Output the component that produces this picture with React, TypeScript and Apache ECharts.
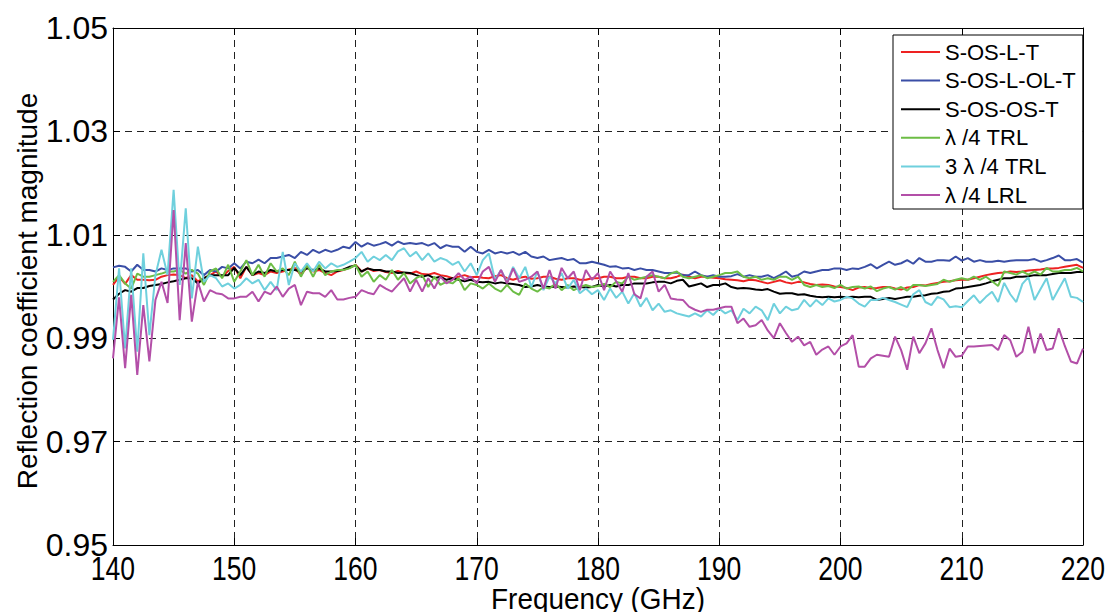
import React, { useEffect, useRef } from "react";
import * as echarts from "echarts";

// Frequency sampling grid (GHz), 0.5 GHz steps from 140 to 220
const frequencies: number[] = Array.from({ length: 161 }, (_, i) => 140 + i * 0.5);

const xTicks = [140, 150, 160, 170, 180, 190, 200, 210, 220];
const yTickLabels = ["0.95", "0.97", "0.99", "1.01", "1.03", "1.05"];

const seriesNames = ["S-OS-L-T", "S-OS-L-OL-T", "S-OS-OS-T", "λ /4 TRL", "3 λ /4 TRL", "λ /4 LRL"];
const seriesColors = ["#ee2222", "#3a4ea6", "#000000", "#6cbd45", "#6fd0dd", "#b34fa8"];

const sOSLT = [
  1.0003, 1.0019, 1.0005, 1.0022, 1.0013, 1.0013, 1.0012, 1.0013, 1.0019, 1.0022,
  1.0023, 1.0022, 1.0016, 1.0022, 1.0010, 1.0016, 1.0022, 1.0029, 1.0019, 1.0030,
  1.0038, 1.0016, 1.0038, 1.0022, 1.0026, 1.0022, 1.0029, 1.0026, 1.0029, 1.0033,
  1.0036, 1.0022, 1.0038, 1.0029, 1.0032, 1.0026, 1.0022, 1.0029, 1.0032, 1.0036,
  1.0042, 1.0029, 1.0035, 1.0030, 1.0032, 1.0028, 1.0026, 1.0030, 1.0026, 1.0025,
  1.0029, 1.0024, 1.0023, 1.0026, 1.0022, 1.0020, 1.0016, 1.0019, 1.0022, 1.0018,
  1.0019, 1.0017, 1.0016, 1.0020, 1.0022, 1.0016, 1.0013, 1.0017, 1.0019, 1.0015,
  1.0016, 1.0019, 1.0019, 1.0015, 1.0013, 1.0016, 1.0016, 1.0013, 1.0013, 1.0016,
  1.0016, 1.0019, 1.0019, 1.0016, 1.0016, 1.0019, 1.0019, 1.0016, 1.0016, 1.0019,
  1.0019, 1.0016, 1.0016, 1.0019, 1.0023, 1.0019, 1.0016, 1.0019, 1.0019, 1.0017,
  1.0016, 1.0014, 1.0013, 1.0012, 1.0010, 1.0013, 1.0012, 1.0009, 1.0006, 1.0009,
  1.0012, 1.0008, 1.0006, 1.0009, 1.0008, 1.0005, 1.0003, 1.0004, 1.0003, 1.0000,
  0.9999, 0.9997, 0.9993, 0.9998, 0.9999, 0.9996, 0.9997, 0.9999, 0.9999, 0.9996,
  0.9994, 0.9998, 0.9999, 1.0003, 1.0002, 1.0005, 1.0007, 1.0009, 1.0010, 1.0012,
  1.0013, 1.0013, 1.0016, 1.0019, 1.0022, 1.0024, 1.0026, 1.0027, 1.0029, 1.0028,
  1.0029, 1.0031, 1.0032, 1.0033, 1.0035, 1.0035, 1.0036, 1.0038, 1.0040, 1.0042,
  1.0036,
];

const sOSLOLT = [
  1.0037, 1.0040, 1.0038, 1.0029, 1.0042, 1.0032, 1.0032, 1.0029, 1.0035, 1.0032,
  1.0035, 1.0035, 1.0035, 1.0029, 1.0032, 1.0022, 1.0032, 1.0029, 1.0038, 1.0035,
  1.0045, 1.0035, 1.0048, 1.0045, 1.0052, 1.0045, 1.0055, 1.0055, 1.0058, 1.0061,
  1.0055, 1.0067, 1.0061, 1.0071, 1.0065, 1.0071, 1.0067, 1.0071, 1.0077, 1.0074,
  1.0086, 1.0077, 1.0084, 1.0079, 1.0082, 1.0086, 1.0079, 1.0087, 1.0082, 1.0084,
  1.0082, 1.0084, 1.0079, 1.0084, 1.0074, 1.0080, 1.0077, 1.0077, 1.0067, 1.0077,
  1.0067, 1.0064, 1.0071, 1.0064, 1.0067, 1.0064, 1.0067, 1.0061, 1.0067, 1.0058,
  1.0055, 1.0058, 1.0051, 1.0053, 1.0055, 1.0051, 1.0053, 1.0045, 1.0045, 1.0048,
  1.0045, 1.0042, 1.0038, 1.0039, 1.0035, 1.0036, 1.0032, 1.0035, 1.0032, 1.0032,
  1.0029, 1.0026, 1.0026, 1.0027, 1.0022, 1.0022, 1.0029, 1.0022, 1.0019, 1.0022,
  1.0019, 1.0019, 1.0020, 1.0024, 1.0019, 1.0022, 1.0019, 1.0019, 1.0022, 1.0016,
  1.0022, 1.0029, 1.0019, 1.0022, 1.0029, 1.0026, 1.0029, 1.0032, 1.0032, 1.0035,
  1.0035, 1.0032, 1.0035, 1.0034, 1.0038, 1.0043, 1.0035, 1.0042, 1.0048, 1.0042,
  1.0045, 1.0051, 1.0044, 1.0055, 1.0048, 1.0048, 1.0051, 1.0051, 1.0050, 1.0058,
  1.0050, 1.0055, 1.0048, 1.0051, 1.0048, 1.0048, 1.0050, 1.0048, 1.0050, 1.0051,
  1.0051, 1.0051, 1.0053, 1.0048, 1.0051, 1.0055, 1.0060, 1.0051, 1.0051, 1.0053,
  1.0046,
];

const sOSOST = [
  0.9975, 0.9986, 0.9993, 0.9990, 0.9997, 0.9997, 1.0001, 1.0003, 1.0005, 1.0008,
  1.0010, 1.0013, 1.0016, 1.0016, 1.0006, 1.0016, 1.0022, 1.0022, 1.0022, 1.0022,
  1.0036, 1.0022, 1.0038, 1.0022, 1.0029, 1.0026, 1.0032, 1.0029, 1.0032, 1.0032,
  1.0032, 1.0029, 1.0035, 1.0032, 1.0035, 1.0029, 1.0029, 1.0030, 1.0033, 1.0038,
  1.0040, 1.0029, 1.0035, 1.0032, 1.0032, 1.0029, 1.0029, 1.0026, 1.0027, 1.0026,
  1.0022, 1.0019, 1.0022, 1.0016, 1.0019, 1.0013, 1.0016, 1.0013, 1.0010, 1.0013,
  1.0009, 1.0008, 1.0009, 1.0006, 1.0008, 1.0006, 1.0005, 1.0003, 0.9999, 1.0000,
  1.0003, 1.0000, 0.9999, 1.0000, 0.9999, 0.9998, 1.0000, 0.9999, 0.9998, 0.9999,
  1.0003, 1.0000, 1.0003, 1.0000, 1.0003, 1.0003, 1.0006, 1.0006, 1.0006, 1.0008,
  1.0009, 1.0009, 1.0006, 1.0011, 1.0013, 1.0000, 1.0003, 1.0006, 0.9999, 1.0003,
  1.0003, 1.0006, 0.9999, 0.9996, 0.9997, 0.9996, 0.9994, 0.9993, 0.9995, 0.9990,
  0.9986, 0.9987, 0.9987, 0.9984, 0.9985, 0.9982, 0.9980, 0.9979, 0.9980, 0.9979,
  0.9980, 0.9979, 0.9980, 0.9979, 0.9980, 0.9980, 0.9974, 0.9976, 0.9978, 0.9976,
  0.9978, 0.9980, 0.9980, 0.9982, 0.9983, 0.9986, 0.9987, 0.9990, 0.9991, 0.9996,
  0.9997, 0.9999, 1.0001, 1.0003, 1.0006, 1.0010, 1.0013, 1.0016, 1.0016, 1.0019,
  1.0019, 1.0020, 1.0022, 1.0022, 1.0022, 1.0024, 1.0026, 1.0026, 1.0026, 1.0028,
  1.0028,
];

const quarterTRL = [
  1.0009, 1.0022, 1.0006, 0.9996, 1.0025, 1.0019, 1.0019, 1.0022, 1.0025, 1.0029,
  1.0029, 1.0032, 1.0025, 1.0032, 1.0025, 1.0003, 1.0029, 1.0035, 1.0016, 1.0042,
  1.0009, 1.0029, 1.0051, 1.0022, 1.0042, 1.0019, 1.0045, 1.0029, 1.0035, 1.0022,
  1.0048, 1.0019, 1.0042, 1.0019, 1.0042, 1.0022, 1.0029, 1.0032, 1.0032, 1.0035,
  1.0042, 1.0019, 1.0029, 1.0009, 1.0022, 1.0013, 1.0032, 1.0013, 1.0026, 1.0006,
  1.0016, 1.0022, 0.9999, 1.0019, 1.0003, 1.0009, 1.0006, 1.0016, 0.9993, 1.0006,
  1.0003, 0.9996, 1.0006, 0.9996, 0.9990, 1.0003, 0.9990, 0.9984, 1.0006, 0.9996,
  0.9990, 0.9999, 0.9996, 1.0006, 0.9993, 1.0003, 0.9993, 0.9999, 1.0003, 0.9999,
  1.0001, 1.0005, 0.9999, 1.0009, 1.0006, 1.0019, 1.0013, 1.0016, 1.0019, 1.0022,
  1.0019, 1.0016, 1.0025, 1.0029, 1.0019, 1.0016, 1.0019, 1.0022, 1.0016, 1.0019,
  1.0022, 1.0026, 1.0026, 1.0029, 1.0019, 1.0016, 1.0019, 1.0013, 1.0016, 1.0013,
  1.0019, 1.0019, 1.0013, 1.0019, 1.0003, 0.9999, 1.0003, 0.9999, 1.0001, 0.9997,
  1.0003, 0.9996, 0.9999, 1.0000, 0.9996, 1.0000, 0.9991, 0.9996, 0.9999, 0.9994,
  0.9999, 0.9992, 1.0003, 1.0003, 1.0001, 1.0003, 1.0005, 1.0013, 1.0009, 1.0013,
  1.0016, 1.0013, 1.0019, 1.0013, 1.0019, 1.0010, 1.0001, 1.0029, 1.0026, 1.0023,
  1.0029, 1.0023, 1.0029, 1.0023, 1.0036, 1.0029, 1.0029, 1.0032, 1.0032, 1.0036,
  1.0029,
];

const threeQuarterTRL = [
  0.9897, 1.0035, 0.9880, 1.0035, 0.9874, 1.0064, 0.9906, 1.0022, 1.0071, 1.0022,
  1.0187, 1.0003, 1.0151, 0.9977, 1.0077, 1.0009, 1.0022, 1.0016, 1.0000, 1.0006,
  0.9996, 1.0003, 1.0016, 1.0006, 1.0013, 0.9993, 1.0009, 0.9993, 1.0067, 1.0003,
  1.0045, 1.0029, 1.0045, 1.0029, 1.0048, 1.0035, 1.0045, 1.0038, 1.0042, 1.0048,
  1.0055, 1.0067, 1.0048, 1.0058, 1.0051, 1.0061, 1.0051, 1.0068, 1.0074, 1.0058,
  1.0067, 1.0051, 1.0064, 1.0048, 1.0055, 1.0051, 1.0042, 1.0048, 1.0029, 1.0045,
  1.0022, 1.0051, 1.0064, 1.0013, 1.0032, 1.0009, 1.0038, 1.0016, 1.0038, 0.9999,
  1.0029, 0.9993, 1.0019, 1.0006, 1.0026, 0.9996, 1.0013, 0.9987, 0.9996, 0.9985,
  0.9993, 0.9974, 0.9996, 0.9978, 0.9990, 0.9967, 0.9987, 0.9961, 0.9978, 0.9954,
  0.9967, 0.9951, 0.9954, 0.9948, 0.9945, 0.9942, 0.9948, 0.9942, 0.9954, 0.9945,
  0.9957, 0.9948, 0.9954, 0.9935, 0.9957, 0.9948, 0.9961, 0.9954, 0.9935, 0.9967,
  0.9948, 0.9961, 0.9954, 0.9957, 0.9974, 0.9961, 0.9974, 0.9964, 0.9977, 0.9971,
  0.9974, 0.9980, 0.9977, 0.9967, 0.9961, 0.9974, 0.9974, 0.9978, 0.9974, 0.9970,
  0.9965, 0.9960, 0.9985, 0.9993, 0.9970, 0.9964, 0.9980, 0.9975, 0.9960, 0.9962,
  0.9960, 0.9972, 0.9983, 0.9968, 0.9980, 0.9990, 0.9970, 1.0007, 0.9985, 0.9970,
  1.0005, 1.0018, 0.9974, 0.9995, 1.0016, 0.9974, 0.9995, 1.0016, 0.9980, 0.9978,
  0.9970,
];

const quarterLRL = [
  0.9861, 0.9979, 0.9842, 0.9984, 0.9829, 0.9964, 0.9855, 0.9974, 1.0009, 0.9968,
  1.0148, 0.9935, 1.0084, 0.9932, 1.0009, 0.9971, 0.9993, 0.9987, 0.9985, 0.9977,
  0.9977, 0.9980, 0.9980, 0.9990, 0.9971, 0.9990, 0.9985, 1.0000, 0.9980, 0.9996,
  1.0003, 0.9964, 0.9990, 0.9987, 0.9987, 0.9980, 0.9993, 0.9975, 0.9975, 0.9978,
  0.9980, 0.9993, 0.9988, 0.9985, 1.0003, 0.9996, 0.9990, 1.0003, 1.0016, 0.9990,
  1.0013, 0.9990, 1.0016, 0.9996, 1.0019, 1.0006, 1.0013, 1.0026, 1.0013, 1.0019,
  1.0006, 1.0029, 1.0038, 1.0009, 1.0032, 1.0006, 1.0035, 1.0009, 1.0013, 1.0019,
  1.0029, 0.9996, 1.0032, 0.9996, 1.0036, 1.0016, 1.0029, 0.9993, 1.0032, 1.0013,
  1.0026, 0.9993, 1.0029, 1.0010, 0.9990, 1.0026, 0.9985, 0.9977, 1.0019, 1.0029,
  0.9990, 1.0003, 0.9977, 0.9975, 0.9974, 0.9961, 0.9955, 0.9951, 0.9955, 0.9955,
  0.9958, 0.9961, 0.9961, 0.9929, 0.9938, 0.9922, 0.9925, 0.9935, 0.9915, 0.9900,
  0.9929, 0.9910, 0.9893, 0.9903, 0.9886, 0.9893, 0.9868, 0.9878, 0.9884, 0.9868,
  0.9884, 0.9890, 0.9906, 0.9845, 0.9845, 0.9861, 0.9868, 0.9866, 0.9864, 0.9903,
  0.9877, 0.9839, 0.9903, 0.9871, 0.9890, 0.9919, 0.9877, 0.9842, 0.9880, 0.9864,
  0.9866, 0.9884, 0.9884, 0.9885, 0.9886, 0.9887, 0.9877, 0.9906, 0.9896, 0.9864,
  0.9874, 0.9922, 0.9871, 0.9909, 0.9877, 0.9880, 0.9919, 0.9885, 0.9855, 0.9851,
  0.9880,
];

const seriesValues = [sOSLT, sOSLOLT, sOSOST, quarterTRL, threeQuarterTRL, quarterLRL];

// y axis is drawn in hundredths above 0.95 so that ticks start exactly at 0.95
const Y_BASE = 0.95;
const toAxis = (v: number) => (v - Y_BASE) * 100;

const W = 1117;
const H = 612;
const GRID = { left: 113, right: 34, top: 28, bottom: 67 };
const SANS = "'Liberation Sans', Arial, Helvetica, sans-serif";

export default function App() {
  const ref = useRef<HTMLDivElement>(null);

  useEffect(() => {
    if (!ref.current) return;
    const chart = echarts.init(ref.current, undefined, { renderer: "svg" });

    const gridLine = { show: true, lineStyle: { color: "#222", width: 1, type: [7, 5] as any } };
    const axisLine = { show: true, onZero: false, lineStyle: { color: "#000", width: 1 } };
    const tick = { show: true, inside: true, length: 7, lineStyle: { color: "#000", width: 1 } };

    const titles: any[] = [
      {
        type: "text",
        x: 27,
        y: 291,
        rotation: Math.PI / 2,
        style: {
          text: "Reflection coefficient magnitude",
          fill: "#000",
          fontSize: 28,
          fontFamily: SANS,
          textAlign: "center",
          textVerticalAlign: "middle",
        },
      },
      {
        type: "text",
        x: (GRID.left + (W - GRID.right)) / 2,
        y: 599,
        scaleX: 0.93,
        style: {
          text: "Frequency (GHz)",
          fill: "#000",
          fontSize: 30,
          fontFamily: SANS,
          textAlign: "center",
          textVerticalAlign: "middle",
        },
      },
    ];

    const option: any = {
      animation: false,
      backgroundColor: "#ffffff",
      grid: { ...GRID, containLabel: false, outerBoundsMode: "none" },
      xAxis: [
        {
          type: "value",
          min: xTicks[0],
          max: xTicks[xTicks.length - 1],
          interval: 10,
          position: "bottom",
          axisLine,
          axisTick: tick,
          splitLine: gridLine,
          axisLabel: { show: false },
        },
        {
          type: "value",
          min: xTicks[0],
          max: xTicks[xTicks.length - 1],
          interval: 10,
          position: "top",
          axisLine,
          axisTick: tick,
          splitLine: { show: false },
          axisLabel: { show: false },
        },
      ],
      yAxis: [
        {
          type: "value",
          min: 0,
          max: 10,
          interval: 2,
          position: "left",
          axisLine,
          axisTick: tick,
          splitLine: gridLine,
          axisLabel: {
            color: "#000",
            fontSize: 32,
            fontFamily: SANS,
            margin: 5,
            showMinLabel: true,
            showMaxLabel: true,
            hideOverlap: false,
            formatter: (val: number) => yTickLabels[Math.round(val / 2)] ?? "",
          },
        },
        {
          type: "value",
          min: 0,
          max: 10,
          interval: 2,
          position: "right",
          axisLine,
          axisTick: tick,
          splitLine: { show: false },
          axisLabel: { show: false },
        },
      ],
      legend: {
        show: true,
        orient: "vertical",
        left: 893,
        top: 35,
        padding: [6, 7, 3, 8],
        itemGap: 6.6,
        itemWidth: 39,
        itemHeight: 2,
        icon: "rect",
        backgroundColor: "#ffffff",
        borderColor: "#000",
        borderWidth: 1,
        borderRadius: 0,
        selectedMode: false,
        textStyle: { color: "#000", fontSize: 22, fontFamily: SANS },
        data: seriesNames,
      },
      series: seriesNames.map((name, k) => ({
        name,
        type: "line",
        xAxisIndex: 0,
        yAxisIndex: 0,
        showSymbol: false,
        symbol: "none",
        clip: true,
        color: seriesColors[k],
        itemStyle: { color: seriesColors[k] },
        lineStyle: { color: seriesColors[k], width: 2 },
        data: frequencies.map((f, i) => [f, toAxis(seriesValues[k][i])]),
        z: 2 + k,
      })),
      graphic: { elements: titles },
    };

    chart.setOption(option);

    // x tick labels in a condensed face, placed through the axis scale
    const axisY = H - GRID.bottom;
    const tickLabels = xTicks.map((t) => {
      const px = chart.convertToPixel({ xAxisIndex: 0 }, t) as number;
      return {
        type: "text",
        x: px,
        y: axisY + 6,
        scaleX: 0.78,
        style: {
          text: String(t),
          fill: "#000",
          fontSize: 34,
          fontFamily: SANS,
          textAlign: "center",
          textVerticalAlign: "top",
        },
      };
    });
    chart.setOption({ graphic: { elements: [...titles, ...tickLabels] } });

    return () => chart.dispose();
  }, []);

  return (
    <div
      ref={ref}
      style={{ position: "absolute", left: 0, top: 0, width: W, height: H, background: "#fff" }}
    />
  );
}
